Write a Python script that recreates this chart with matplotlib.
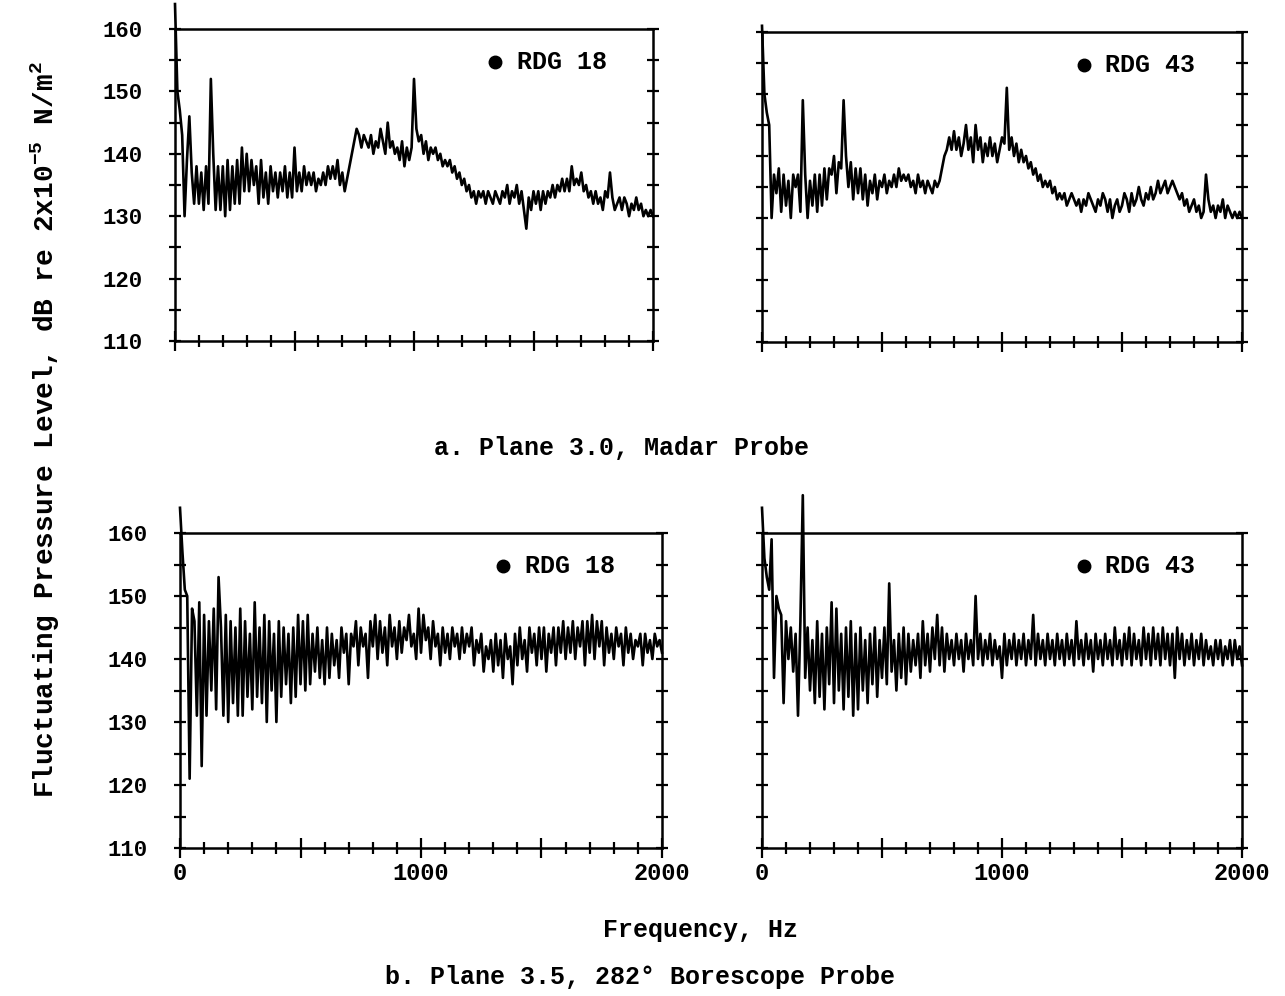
import numpy as np
import matplotlib
matplotlib.use("Agg")
import matplotlib.pyplot as plt
from matplotlib.ticker import MultipleLocator

plt.rcParams["font.family"] = ["Liberation Mono", "DejaVu Sans Mono"]
plt.rcParams["font.weight"] = "bold"
plt.rcParams["mathtext.fontset"] = "custom"
plt.rcParams["mathtext.rm"] = "Liberation Mono:bold"
plt.rcParams["mathtext.default"] = "rm"

# Narrowband spectra, 10 Hz bins from 0 to 2000 Hz (dB re 2x10^-5 N/m^2)
freq_hz = np.arange(0, 2001, 10)

madar_rdg18 = [
    164, 150, 147, 143, 130, 139, 146, 137, 132, 138,
    132, 137, 131, 138, 132, 152, 140, 131, 138, 131,
    138, 130, 139, 131, 138, 132, 139, 132, 141, 134,
    140, 134, 139, 135, 138, 132, 139, 133, 137, 132,
    138, 134, 137, 133, 137, 134, 138, 133, 137, 133,
    141, 134, 137, 134, 138, 135, 137, 135, 137, 134,
    136, 135, 137, 135, 138, 136, 138, 136, 139, 135,
    137, 134, 136, 138, 140, 142, 144, 143, 141, 143,
    142, 141, 143, 140, 142, 141, 144, 142, 140, 145,
    141, 142, 140, 141, 139, 142, 138, 141, 139, 141,
    152, 144, 142, 143, 140, 142, 139, 141, 140, 141,
    139, 140, 138, 139, 138, 139, 137, 138, 136, 137,
    135, 136, 134, 135, 133, 134, 132, 134, 133, 134,
    132, 134, 133, 132, 134, 133, 132, 134, 133, 135,
    132, 134, 133, 135, 132, 134, 131, 128, 133, 131,
    134, 132, 134, 131, 134, 132, 134, 133, 135, 133,
    135, 134, 136, 134, 136, 134, 138, 135, 136, 135,
    137, 134, 135, 133, 134, 132, 134, 132, 133, 131,
    134, 133, 137, 133, 131, 132, 133, 131, 133, 132,
    130, 132, 131, 133, 131, 132, 130, 131, 130, 131,
    130,
]

madar_rdg43 = [
    161, 150, 147, 145, 130, 137, 134, 138, 131, 137,
    132, 136, 130, 137, 135, 137, 131, 149, 137, 130,
    136, 132, 137, 131, 137, 132, 138, 133, 138, 137,
    140, 134, 139, 138, 149, 140, 135, 139, 133, 138,
    134, 138, 133, 137, 132, 136, 134, 137, 133, 136,
    135, 137, 134, 136, 135, 137, 135, 138, 136, 137,
    136, 137, 135, 136, 134, 137, 135, 136, 134, 136,
    135, 134, 136, 135, 136, 138, 140, 141, 143, 141,
    144, 141, 143, 140, 142, 145, 141, 143, 139, 145,
    141, 143, 139, 142, 140, 143, 140, 142, 139, 141,
    143, 142, 151, 141, 143, 140, 142, 139, 141, 139,
    140, 138, 139, 137, 138, 136, 137, 135, 136, 135,
    136, 134, 135, 133, 134, 133, 134, 132, 133, 134,
    133, 132, 133, 131, 133, 132, 134, 133, 132, 131,
    133, 132, 134, 133, 131, 133, 130, 132, 133, 131,
    132, 134, 133, 131, 134, 132, 133, 135, 133, 132,
    134, 133, 135, 133, 134, 136, 134, 135, 136, 134,
    135, 136, 135, 134, 133, 134, 132, 133, 131, 132,
    133, 131, 132, 130, 131, 137, 133, 131, 132, 130,
    132, 131, 133, 130, 132, 131, 130, 131, 130, 131,
    130,
]

borescope_rdg18 = [
    164, 157, 151, 150, 121, 148, 146, 131, 149, 123,
    147, 131, 146, 135, 148, 132, 153, 145, 131, 147,
    130, 146, 133, 145, 131, 148, 131, 146, 134, 144,
    132, 149, 134, 145, 133, 147, 130, 146, 135, 144,
    130, 146, 134, 145, 136, 144, 133, 145, 134, 147,
    136, 146, 135, 147, 136, 144, 138, 145, 137, 143,
    136, 145, 137, 144, 139, 143, 137, 145, 141, 144,
    136, 144, 142, 146, 139, 145, 142, 144, 137, 146,
    142, 147, 140, 146, 141, 145, 139, 147, 142, 145,
    140, 146, 141, 145, 143, 147, 142, 144, 140, 148,
    141, 147, 143, 145, 140, 146, 142, 144, 139, 145,
    141, 144, 140, 145, 142, 144, 140, 145, 141, 144,
    142, 145, 139, 143, 141, 144, 138, 142, 140, 143,
    138, 144, 139, 143, 137, 144, 140, 142, 136, 144,
    139, 145, 140, 143, 138, 145, 141, 144, 139, 145,
    140, 145, 138, 144, 141, 145, 139, 145, 141, 146,
    140, 145, 141, 146, 140, 145, 142, 146, 139, 146,
    141, 147, 140, 146, 142, 146, 139, 145, 141, 144,
    140, 145, 142, 144, 139, 145, 141, 144, 140, 143,
    142, 144, 139, 144, 141, 143, 140, 144, 142, 143,
    141,
]

borescope_rdg43 = [
    164, 156, 153, 151, 159, 137, 150, 148, 147, 133,
    146, 140, 145, 138, 144, 131, 146, 166, 137, 145,
    135, 143, 133, 146, 134, 144, 132, 145, 136, 149,
    133, 148, 135, 144, 132, 145, 134, 146, 131, 144,
    132, 145, 135, 143, 133, 144, 136, 145, 134, 143,
    137, 145, 136, 152, 138, 143, 135, 144, 137, 145,
    136, 144, 138, 143, 139, 144, 137, 146, 139, 144,
    138, 145, 140, 147, 139, 145, 138, 144, 140, 143,
    139, 144, 140, 143, 138, 144, 140, 143, 139, 150,
    140, 144, 139, 143, 140, 144, 139, 143, 140, 142,
    137, 144, 139, 143, 140, 144, 139, 143, 140, 144,
    139, 143, 140, 147, 139, 144, 140, 143, 139, 144,
    140, 143, 139, 144, 140, 143, 139, 144, 140, 143,
    139, 146, 140, 143, 139, 144, 140, 143, 138, 144,
    140, 143, 139, 144, 140, 143, 139, 145, 140, 143,
    139, 144, 140, 145, 139, 144, 140, 143, 139, 145,
    140, 144, 139, 145, 140, 144, 139, 145, 140, 144,
    139, 144, 137, 145, 140, 144, 139, 143, 140, 144,
    139, 143, 140, 144, 139, 143, 140, 142, 139, 143,
    140, 143, 139, 142, 140, 143, 139, 143, 140, 142,
    139,
]

reading_labels = ["RDG 18", "RDG 43", "RDG 18", "RDG 43"]
y_ticks = [110, 120, 130, 140, 150, 160]
x_ticks = [0, 1000, 2000]

W, H = 1285, 996
fig = plt.figure(figsize=(W / 100, H / 100), dpi=100)


def px_axes(x0, x1, ytop, ybot):
    return fig.add_axes([x0 / W, 1 - ybot / H, (x1 - x0) / W, (ybot - ytop) / H])


axes = [
    px_axes(175, 653, 29, 341),
    px_axes(762, 1242, 32, 342),
    px_axes(180, 662, 533, 848),
    px_axes(762, 1242, 533, 848),
]
series = [madar_rdg18, madar_rdg43, borescope_rdg18, borescope_rdg43]

for i, (ax, level) in enumerate(zip(axes, series)):
    ax.plot(freq_hz, level, color="black", lw=1.9, clip_on=False)
    ax.set_xlim(0, 2000)
    ax.set_ylim(110, 160)
    for sp in ax.spines.values():
        sp.set_linewidth(1.8)
    ax.yaxis.set_major_locator(MultipleLocator(5))
    ax.xaxis.set_major_locator(MultipleLocator(500))
    ax.xaxis.set_minor_locator(MultipleLocator(100))
    ax.tick_params(axis="y", which="major", direction="inout", length=9,
                   width=1.6, left=True, right=True)
    ax.tick_params(axis="x", which="major", direction="inout", length=14,
                   width=1.6)
    ax.tick_params(axis="x", which="minor", direction="inout", length=8,
                   width=1.6)
    if i % 2 == 0:
        ax.set_yticks([v for v in range(110, 161, 5)])
        ax.set_yticklabels([str(v) if v in y_ticks else "" for v in range(110, 161, 5)],
                           fontsize=16, fontweight="bold")
        ax.tick_params(axis="y", pad=19)
    else:
        ax.set_yticklabels([])
    if i >= 2:
        ax.set_xticks([v for v in range(0, 2001, 500)])
        ax.set_xticklabels([str(v) if v in x_ticks else "" for v in range(0, 2001, 500)],
                           fontsize=17, fontweight="bold")
        ax.tick_params(axis="x", pad=3)
    else:
        ax.set_xticklabels([])
    ax.plot([1340], [154.7], "o", color="black", ms=9)
    ax.text(1430, 154.7, reading_labels[i], fontsize=18, fontweight="bold",
            va="center", ha="left")

fig.text(621 / W, 1 - 448 / H, "a. Plane 3.0, Madar Probe",
         ha="center", va="center", fontsize=18, fontweight="bold")
fig.text(701 / W, 1 - 930 / H, "Frequency, Hz",
         ha="center", va="center", fontsize=18, fontweight="bold")
fig.text(640 / W, 1 - 977 / H, "b. Plane 3.5, 282\u00b0 Borescope Probe",
         ha="center", va="center", fontsize=18, fontweight="bold")
fig.text(45 / W, 1 - 430 / H,
         r"Fluctuating Pressure Level, dB re 2x10$^{-5}$ N/m$^{2}$",
         ha="center", va="center", rotation=90, fontsize=20, fontweight="bold")

fig.savefig("out.png", dpi=100)
